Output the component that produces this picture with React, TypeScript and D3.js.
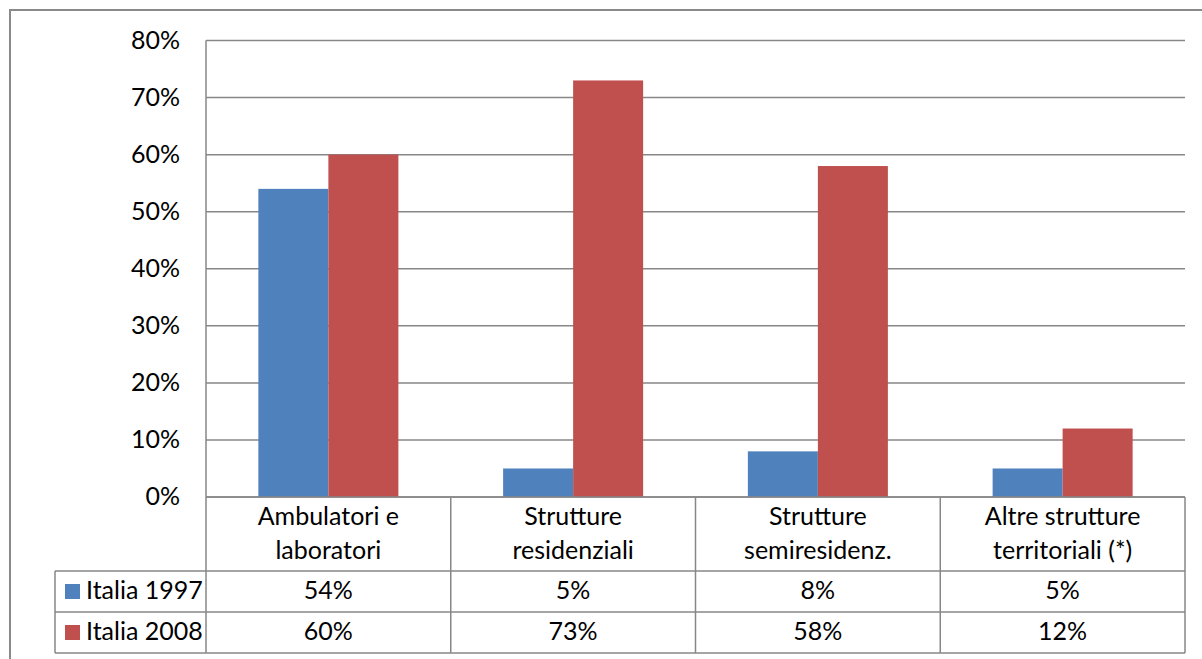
import React from "react";
import * as d3 from "d3";

const categories: string[][] = [
  ["Ambulatori e", "laboratori"],
  ["Strutture", "residenziali"],
  ["Strutture", "semiresidenz."],
  ["Altre strutture", "territoriali (*)"],
];
const seriesNames = ["Italia 1997", "Italia 2008"];
const values1997 = [54, 5, 8, 5];
const values2008 = [60, 73, 58, 12];
const yTicks = [0, 10, 20, 30, 40, 50, 60, 70, 80];
const seriesColors = ["#4F81BD", "#C0504D"];

const W = 1202;
const H = 659;
const FONT = "Lato, 'Open Sans', sans-serif";
const FS = 25;
const LINE = "#878787";

export default function App() {
  const left = 206;
  const right = 1185;
  const top = 40.5;
  const base = 497;
  const rowH = [74, 41, 41];
  const row1 = base + rowH[0];
  const row2 = row1 + rowH[1];
  const row3 = row2 + rowH[2];
  const legendLeft = 55;

  const x = d3.scaleBand<number>().domain(d3.range(categories.length)).range([left, right]).padding(0);
  const inner = d3
    .scaleBand<number>()
    .domain([0, 1])
    .range([0, x.bandwidth()])
    .paddingInner(0)
    .paddingOuter(0.748);
  const y = d3.scaleLinear().domain([0, 80]).range([base, top]);

  const series = [values1997, values2008];
  const fmt = (v: number) => `${v}%`;

  return (
    <svg
      width={W}
      height={H}
      style={{ position: "absolute", left: 0, top: 0, background: "#fff" }}
      fontFamily={FONT}
      fontSize={FS}
    >
      <rect x={0} y={0} width={W} height={H} fill="#fff" />
      {/* outer chart frame */}
      <path d={`M10,${H + 5}V10H${W + 5}`} fill="none" stroke="#8a8a8a" strokeWidth={2} />

      {/* gridlines */}
      {yTicks.map((t) => (
        <line key={t} x1={left} x2={right} y1={y(t)} y2={y(t)} stroke={LINE} strokeWidth={1.5} />
      ))}
      {/* y tick labels */}
      {yTicks.map((t) => (
        <text key={"l" + t} x={180} y={y(t) + 8} textAnchor="end" fill="#000">
          {fmt(t)}
        </text>
      ))}

      {/* bars */}
      {series.map((vals, si) =>
        vals.map((v, ci) => (
          <rect
            key={`${si}-${ci}`}
            x={(x(ci) as number) + (inner(si) as number)}
            y={y(v)}
            width={inner.bandwidth()}
            height={base - y(v)}
            fill={seriesColors[si]}
          />
        ))
      )}

      {/* data table */}
      <g stroke={LINE} strokeWidth={1.5} fill="none">
        <line x1={left} x2={left} y1={top} y2={row3} />
        <line x1={left} x2={right} y1={base} y2={base} />
        <line x1={legendLeft} x2={right} y1={row1} y2={row1} />
        <line x1={legendLeft} x2={right} y1={row2} y2={row2} />
        <line x1={legendLeft} x2={right} y1={row3} y2={row3} />
        <line x1={legendLeft} x2={legendLeft} y1={row1} y2={row3} />
        {categories.map((_, ci) => (
          <line
            key={ci}
            x1={(x(ci) as number) + x.bandwidth()}
            x2={(x(ci) as number) + x.bandwidth()}
            y1={base}
            y2={row3}
          />
        ))}
      </g>

      {/* category headers */}
      {categories.map((lines, ci) => (
        <text key={"c" + ci} textAnchor="middle" fill="#000">
          {lines.map((ln, li) => (
            <tspan key={li} x={(x(ci) as number) + x.bandwidth() / 2} y={base + 28 + li * 34}>
              {ln}
            </tspan>
          ))}
        </text>
      ))}

      {/* legend keys + values */}
      {series.map((vals, si) => {
        const rTop = si === 0 ? row1 : row2;
        const bl = rTop + 28;
        return (
          <g key={"s" + si}>
            <rect x={65} y={rTop + 13} width={15} height={15} fill={seriesColors[si]} />
            <text x={86} y={bl} fill="#000">
              {seriesNames[si]}
            </text>
            {vals.map((v, ci) => (
              <text
                key={ci}
                x={(x(ci) as number) + x.bandwidth() / 2}
                y={bl}
                textAnchor="middle"
                fill="#000"
              >
                {fmt(v)}
              </text>
            ))}
          </g>
        );
      })}
    </svg>
  );
}
